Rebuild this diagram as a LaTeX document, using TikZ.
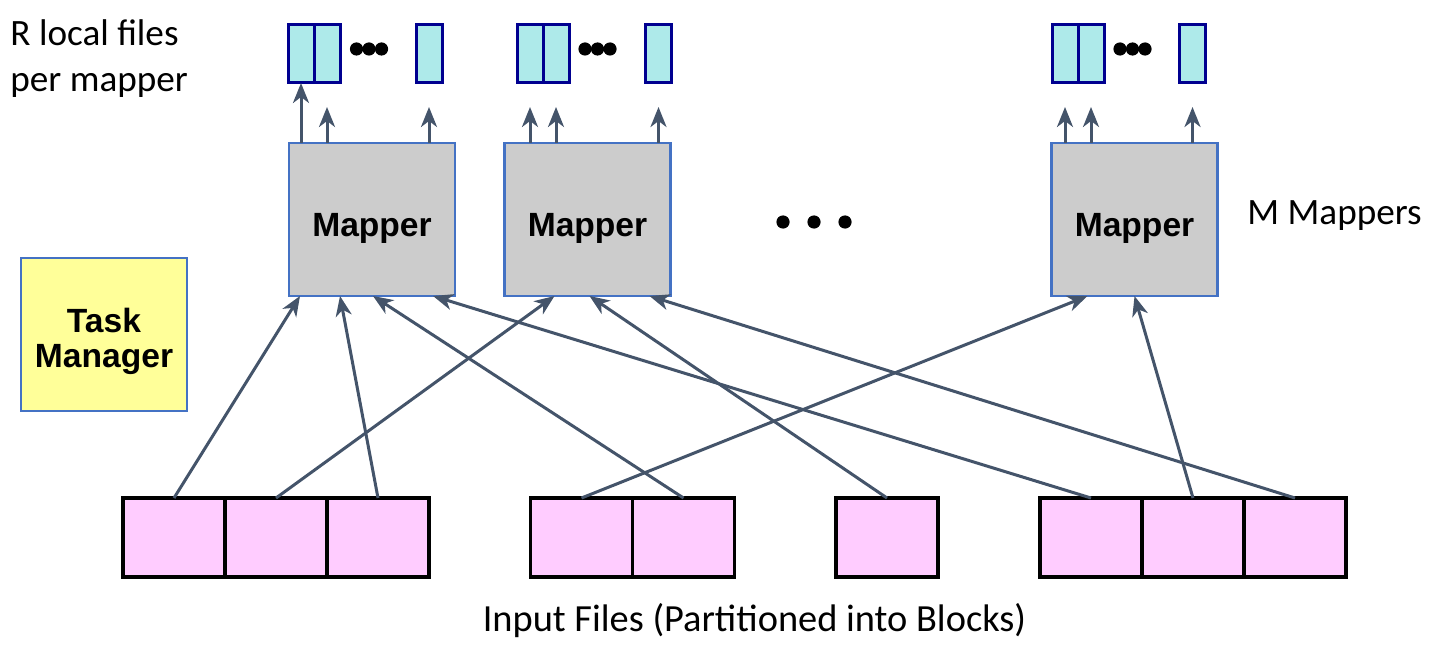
\documentclass[tikz,border=0pt]{standalone}
\usepackage{fontspec}
\setmainfont{Carlito}
\newfontfamily\arialfont{Liberation Sans}
\usetikzlibrary{positioning, arrows.meta}
\definecolor{boxblue}{HTML}{4472C4}
\definecolor{mapgray}{HTML}{CCCCCC}
\definecolor{taskyellow}{HTML}{FFFF99}
\definecolor{filecyan}{HTML}{AEEAEA}
\definecolor{filenavy}{HTML}{000090}
\definecolor{blockpink}{HTML}{FFCCFF}
\definecolor{arrgray}{HTML}{44546A}
\tikzstyle{mapper} = [rectangle, minimum width=83pt, minimum height=76.5pt, inner sep=0pt, outer sep=0pt, draw=boxblue, line width=1.4pt, fill=mapgray, font=\arialfont\bfseries\fontsize{16.8}{17.5}\selectfont, align=center, text height=16.5pt, text depth=0pt]
\tikzstyle{manager} = [mapper, fill=taskyellow, text height=32.5pt]
\tikzstyle{file} = [rectangle, minimum width=13pt, minimum height=29pt, inner sep=0pt, outer sep=0pt, draw=filenavy, line width=1.5pt, fill=filecyan]
\tikzstyle{block} = [rectangle, minimum width=51pt, minimum height=39.5pt, inner sep=0pt, outer sep=0pt, draw=black, line width=1.6pt, fill=blockpink]
\tikzstyle{arrow} = [line width=1.5pt, draw=arrgray, -{Stealth[length=10pt,width=8pt,inset=3pt]}]
\tikzstyle{note} = [font=\fontsize{18.6}{23}\selectfont, inner sep=0pt]

\begin{document}
\begin{tikzpicture}[x=0.5pt,y=-0.5pt]
\useasboundingbox (0,0) rectangle (1443,652);

\node[mapper] (m1) at (372,219.5) {Mapper};
\node[mapper] (m2) at (587.5,219.5) {Mapper};
\node[mapper] (m3) at (1134.5,219.5) {Mapper};
\node[manager] (tm) at (104,334.5) {Task\\Manager};

\node[file] (f11) at (301,54) {};
\node[file,right=0pt of f11] (f12) {};
\node[file] (f13) at (429,54) {};
\node[file] (f21) at (530,54) {};
\node[file,right=0pt of f21] (f22) {};
\node[file] (f23) at (658.5,54) {};
\node[file] (f31) at (1065,54) {};
\node[file,right=0pt of f31] (f32) {};
\node[file] (f33) at (1192.5,54) {};

\foreach \x in {369,597.5,1132.5}{
	\foreach \d in {-12.5,0,12.5}{
		\fill (\x+\d,49) circle (3.3pt);
	}}
\foreach \x in {783,814,845}{\fill (\x,222) circle (3.3pt);}

\draw[arrow] (f11.south |- m1.north) -- (f11.south);
\foreach \m/\f in {m1/f12,m1/f13,m2/f21,m2/f22,m2/f23,m3/f31,m3/f32,m3/f33}{
	\draw[arrow,shorten >=12pt] (\f.south |- \m.north) -- (\f.south);
}

\node[block] (b1) at (174,537.5) {};
\node[block,right=0pt of b1] (b2) {};
\node[block,right=0pt of b2] (b3) {};
\node[block] (b4) at (581.5,537.5) {};
\node[block,right=0pt of b4] (b5) {};
\node[block] (b6) at (887,537.5) {};
\node[block] (b7) at (1091,537.5) {};
\node[block,right=0pt of b7] (b8) {};
\node[block,right=0pt of b8] (b9) {};

\foreach \b/\m/\s in {b1/m1/5.5,b2/m2/25,b3/m1/25.5,b4/m3/18,b5/m1/42,b6/m2/42.5,b7/m1/72,b8/m3/41.5,b9/m2/72.5}{
	\draw[arrow] (\b.north) -- ([xshift=\s pt]\m.south west);
}

\node[note,anchor=base west,align=left] (rfiles) at (10,92) {R local files\\per mapper};
\node[note,anchor=base west] (mcount) at (1247,225) {M Mappers};
\node[note,anchor=base,font=\fontsize{19.2}{23}\selectfont] (input) at (754.5,631) {Input Files (Partitioned into Blocks)};
\end{tikzpicture}
\end{document}
